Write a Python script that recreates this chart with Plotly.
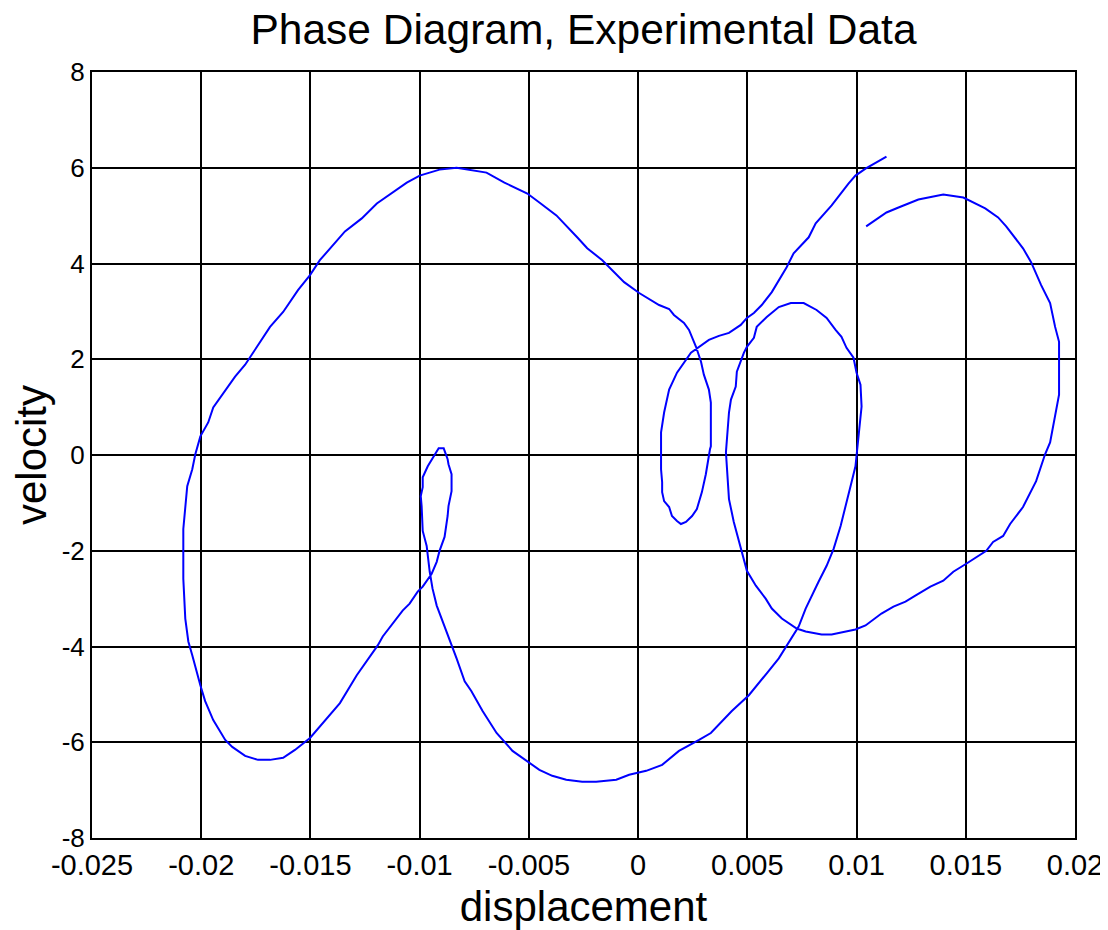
import plotly.graph_objects as go

# Trajectory in phase space (displacement, velocity)
displacement = [
    0.01044, 0.01137, 0.01192, 0.01283, 0.01397, 0.01489, 0.01589, 0.01648, 0.01685, 0.01762,
    0.01799, 0.01845, 0.01886, 0.01909, 0.01927, 0.01927, 0.01886, 0.01863, 0.01822, 0.01762,
    0.01703, 0.01671, 0.01625, 0.01594, 0.01502, 0.01443, 0.01397, 0.01338, 0.01269, 0.01224,
    0.01169, 0.01114, 0.01041, 0.00995, 0.00886, 0.00840, 0.00767, 0.00726, 0.00658, 0.00612,
    0.00584, 0.00539, 0.00498, 0.00475, 0.00438, 0.00416, 0.00406, 0.00402, 0.00416, 0.00425,
    0.00447, 0.00452, 0.00484, 0.00498, 0.00530, 0.00543, 0.00589, 0.00644, 0.00699, 0.00758,
    0.00817, 0.00863, 0.00904, 0.00931, 0.00954, 0.00986, 0.01000, 0.01018, 0.01023, 0.01018,
    0.01009, 0.00995, 0.00977, 0.00927, 0.00895, 0.00863, 0.00826, 0.00767, 0.00735, 0.00680,
    0.00644, 0.00589, 0.00507, 0.00429, 0.00333, 0.00279, 0.00187, 0.00110, 0.00037, -0.00041,
    -0.00100, -0.00192, -0.00256, -0.00329, -0.00393, -0.00452, -0.00511, -0.00575, -0.00648, -0.00712,
    -0.00763, -0.00794, -0.00831, -0.00854, -0.00900, -0.00922, -0.00941, -0.00954, -0.00968, -0.00986,
    -0.00991, -0.00995, -0.00986, -0.00986, -0.00963, -0.00927, -0.00913, -0.00890, -0.00872, -0.00868,
    -0.00854, -0.00854, -0.00868, -0.00872, -0.00886, -0.00909, -0.00922, -0.00945, -0.00986, -0.01009,
    -0.01046, -0.01078, -0.01169, -0.01192, -0.01228, -0.01288, -0.01365, -0.01470, -0.01502, -0.01571,
    -0.01625, -0.01685, -0.01740, -0.01799, -0.01858, -0.01890, -0.01945, -0.01982, -0.02004, -0.02041,
    -0.02059, -0.02073, -0.02082, -0.02082, -0.02073, -0.02064, -0.02041, -0.02027, -0.02004, -0.01968,
    -0.01945, -0.01913, -0.01877, -0.01845, -0.01799, -0.01740, -0.01685, -0.01625, -0.01557, -0.01502,
    -0.01457, -0.01342, -0.01265, -0.01196, -0.01059, -0.01000, -0.00909, -0.00831, -0.00772, -0.00694,
    -0.00612, -0.00507, -0.00452, -0.00374, -0.00279, -0.00233, -0.00164, -0.00064, 0.00005, 0.00041,
    0.00096, 0.00142, 0.00164, 0.00210, 0.00233, 0.00265, 0.00288, 0.00301, 0.00324, 0.00333,
    0.00333, 0.00329, 0.00310, 0.00292, 0.00279, 0.00269, 0.00247, 0.00219, 0.00196, 0.00178,
    0.00155, 0.00142, 0.00119, 0.00110, 0.00110, 0.00105, 0.00105, 0.00119, 0.00142, 0.00178,
    0.00242, 0.00279, 0.00324, 0.00370, 0.00416, 0.00470, 0.00498, 0.00530, 0.00566, 0.00612,
    0.00680, 0.00712, 0.00758, 0.00781, 0.00813, 0.00886, 0.00963, 0.00995, 0.01041, 0.01087,
    0.01137,
]
velocity = [
    4.776, 5.066, 5.170, 5.337, 5.441, 5.378, 5.150, 4.963, 4.776, 4.318,
    4.027, 3.549, 3.175, 2.676, 2.364, 1.262, 0.264, 0.015, -0.547, -1.087,
    -1.441, -1.690, -1.815, -2.002, -2.272, -2.439, -2.626, -2.750, -2.938, -3.062,
    -3.166, -3.312, -3.561, -3.645, -3.748, -3.748, -3.686, -3.624, -3.416, -3.208,
    -3.000, -2.730, -2.418, -2.023, -1.399, -0.921, -0.360, 0.056, 0.888, 1.158,
    1.428, 1.740, 2.135, 2.260, 2.447, 2.676, 2.884, 3.091, 3.175, 3.175,
    3.029, 2.863, 2.613, 2.468, 2.239, 2.031, 1.719, 1.470, 1.012, 0.805,
    0.326, -0.235, -0.568, -1.482, -1.961, -2.314, -2.647, -3.208, -3.582, -3.998,
    -4.247, -4.559, -5.017, -5.349, -5.807, -5.952, -6.181, -6.472, -6.597, -6.680,
    -6.784, -6.825, -6.825, -6.784, -6.701, -6.576, -6.389, -6.181, -5.807, -5.349,
    -4.933, -4.726, -4.247, -3.977, -3.416, -3.146, -2.792, -2.439, -1.898, -1.586,
    -1.067, -0.859, -0.672, -0.464, -0.235, 0.056, 0.139, 0.139, -0.089, -0.193,
    -0.401, -0.755, -1.067, -1.274, -1.711, -2.002, -2.231, -2.480, -2.750, -2.854,
    -3.104, -3.249, -3.790, -3.977, -4.206, -4.601, -5.183, -5.744, -5.911, -6.160,
    -6.326, -6.368, -6.368, -6.285, -6.098, -5.952, -5.536, -5.141, -4.809, -4.185,
    -3.894, -3.416, -2.584, -1.545, -1.129, -0.651, -0.297, 0.015, 0.389, 0.680,
    0.992, 1.200, 1.407, 1.636, 1.886, 2.301, 2.676, 2.988, 3.445, 3.757,
    4.069, 4.671, 4.942, 5.254, 5.690, 5.836, 5.961, 6.002, 5.961, 5.898,
    5.690, 5.462, 5.275, 5.004, 4.547, 4.318, 4.069, 3.611, 3.383, 3.279,
    3.133, 3.050, 2.925, 2.759, 2.613, 2.260, 1.948, 1.678, 1.366, 1.096,
    0.181, 0.119, -0.401, -0.775, -0.963, -1.129, -1.274, -1.399, -1.441, -1.378,
    -1.274, -1.087, -0.963, -0.775, -0.568, -0.297, 0.472, 0.888, 1.366, 1.719,
    2.135, 2.260, 2.405, 2.489, 2.551, 2.717, 2.863, 2.967, 3.133, 3.403,
    3.923, 4.214, 4.443, 4.547, 4.838, 5.212, 5.669, 5.836, 5.981, 6.106,
    6.231,
]

x_tick_vals = [-0.025, -0.02, -0.015, -0.01, -0.005, 0, 0.005, 0.01, 0.015, 0.02]
x_tick_text = ["-0.025", "-0.02", "-0.015", "-0.01", "-0.005", "0", "0.005", "0.01", "0.015", "0.02"]
y_tick_vals = [-8, -6, -4, -2, 0, 2, 4, 6, 8]
y_tick_text = ["-8", "-6", "-4", "-2", "0", "2", "4", "6", "8"]

FONT = "Arial, 'Liberation Sans', sans-serif"

fig = go.Figure()
fig.add_trace(go.Scatter(
    x=displacement, y=velocity, mode="lines",
    line=dict(color="#0000FF", width=2),
    showlegend=False, hoverinfo="skip",
))

W, H = 1100, 922
fig.update_layout(
    width=W, height=H,
    margin=dict(l=84, r=33, t=64, b=92, autoexpand=False),
    paper_bgcolor="white", plot_bgcolor="white",
    font=dict(family=FONT, color="black"),
    title=dict(
        text="Phase Diagram, Experimental Data",
        x=(84 + (W - 33)) / 2 / W, xanchor="center",
        y=1 - 6 / H, yanchor="top", yref="container",
        font=dict(size=42.5, family=FONT, color="black"),
    ),
)

fig.update_xaxes(
    range=[-0.025, 0.02], tickvals=x_tick_vals, ticktext=x_tick_text,
    tickfont=dict(size=29, family=FONT), ticks="",
    showgrid=True, gridcolor="black", gridwidth=1.6,
    showline=True, linecolor="black", linewidth=2, mirror=True,
    zeroline=False, automargin=False,
    title=dict(text="displacement", font=dict(size=42, family=FONT), standoff=14),
)
fig.update_yaxes(
    range=[-8, 8], tickvals=y_tick_vals, ticktext=y_tick_text,
    tickfont=dict(size=26, family=FONT), ticks="",
    showgrid=True, gridcolor="black", gridwidth=1.6,
    showline=True, linecolor="black", linewidth=2, mirror=True,
    zeroline=False, automargin=False,
    title=dict(text="velocity", font=dict(size=42, family=FONT), standoff=13),
)

fig.write_html("out.html")
